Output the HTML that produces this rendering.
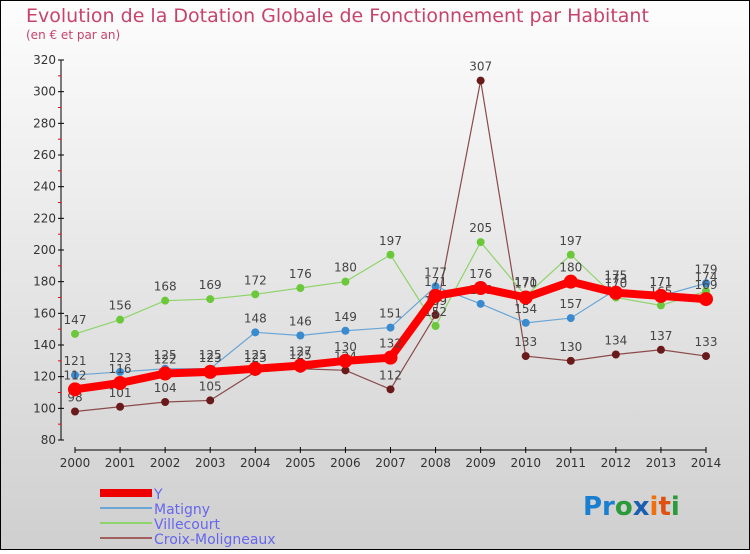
<!DOCTYPE html>
<html><head><meta charset="utf-8"><style>
body{margin:0;width:750px;height:550px;overflow:hidden;font-family:"DejaVu Sans","Liberation Sans",sans-serif}
</style></head><body>
<svg width="750" height="550" xmlns="http://www.w3.org/2000/svg">
<defs><linearGradient id="bg" x1="0" y1="0" x2="0" y2="1"><stop offset="0" stop-color="#fdfdfd"/><stop offset="1" stop-color="#cfcfcf"/></linearGradient></defs>
<rect x="0.5" y="0.5" width="749" height="549" fill="url(#bg)" stroke="#000"/>
<text x="26" y="22" font-size="19" fill="#c8436c">Evolution de la Dotation Globale de Fonctionnement par Habitant</text>
<text x="26" y="39" font-size="12" fill="#c8436c">(en € et par an)</text>
<g id="axes"></g>
<g id="series"></g>
<g id="legend">
<rect x="100" y="489" width="52" height="8" fill="#e00"/>
<text x="154" y="499" font-size="14" fill="#6666ee">Y</text>
<line x1="100" y1="508" x2="152" y2="508" stroke="#6aa6d6" stroke-width="2"/>
<text x="154" y="514" font-size="14" fill="#6666ee">Matigny</text>
<line x1="100" y1="523" x2="152" y2="523" stroke="#8fd46a" stroke-width="2"/>
<text x="154" y="529" font-size="14" fill="#6666ee">Villecourt</text>
<line x1="100" y1="538" x2="152" y2="538" stroke="#a06060" stroke-width="2"/>
<text x="154" y="544" font-size="14" fill="#6666ee">Croix-Moligneaux</text>
</g>
<text x="583" y="515" font-size="26" font-weight="bold"><tspan fill="#1a7fd0">Pr</tspan><tspan fill="#2a9a3a">o</tspan><tspan fill="#1a5fb0">x</tspan><tspan fill="#f07010">i</tspan><tspan fill="#e05010">t</tspan><tspan fill="#2a9a3a">i</tspan></text>
</svg>
<script>
const years=["2000","2001","2002","2003","2004","2005","2006","2007","2008","2009","2010","2011","2012","2013","2014"];
const yTicks=[80,100,120,140,160,180,200,220,240,260,280,300,320];
const yVals=[112,116,122,123,125,127,130,132,171,176,170,180,173,171,169];
const matignyVals=[121,123,125,125,148,146,149,151,177,166,154,157,175,171,179];
const villecourtVals=[147,156,168,169,172,176,180,197,152,205,171,197,170,165,174];
const croixVals=[98,101,104,105,123,125,124,112,159,307,133,130,134,137,133];
const NS="http://www.w3.org/2000/svg";
const X=i=>75+i*(706-75)/(years.length-1);
const Y=v=>440-(v-80)*380/240;
function mk(t,a,p){const e=document.createElementNS(NS,t);for(const k in a)e.setAttribute(k,a[k]);p.appendChild(e);return e;}
const ax=document.getElementById('axes');
let l=mk('line',{x1:61,y1:60,x2:61,y2:440,stroke:'#000'},ax);


yTicks.forEach((v,i)=>{
 mk('line',{x1:58,y1:Y(v),x2:64,y2:Y(v),stroke:'#000'},ax);
 if(i<yTicks.length-1){mk('line',{x1:58,y1:Y(v+10),x2:61,y2:Y(v+10),stroke:'#f00'},ax);}
 const t=mk('text',{x:56,y:Y(v)+4,'font-size':12,'text-anchor':'end',fill:'#333'},ax);t.textContent=v;
 
 
});
l=mk('line',{x1:75,y1:450,x2:706,y2:450,stroke:'#000'},ax);


years.forEach((y,i)=>{
 mk('line',{x1:X(i),y1:447,x2:X(i),y2:453,stroke:'#000'},ax);
 const t=mk('text',{x:X(i),y:467,'font-size':12,'text-anchor':'middle',fill:'#333'},ax);t.textContent=y;
 
 
});
const sg=document.getElementById('series');
function series(name,vals,color,dot,w,r){
 const g=mk('g',{},sg);
 
 
 const p=mk('polyline',{points:vals.map((v,i)=>X(i)+','+Y(v)).join(' '),fill:'none',stroke:color,'stroke-width':w},g);
 
 
 vals.forEach((v,i)=>{
  const c=mk('circle',{cx:X(i),cy:Y(v),r:r,fill:dot},g);
  
  
  const t=mk('text',{x:X(i),y:Y(v)-10,'font-size':12,'text-anchor':'middle',fill:'#444'},g);t.textContent=v;
  
  
 });
}
series('croix-moligneaux',croixVals,'#8a4a4a','#6a1a1a',1.2,4);
series('villecourt',villecourtVals,'#8fd46a','#6ac83a',1.2,4);
series('matigny',matignyVals,'#6aa6d6','#3a8ad0',1.2,4);
series('y',yVals,'#f00','#f00',8,7);
</script>
</body></html>
